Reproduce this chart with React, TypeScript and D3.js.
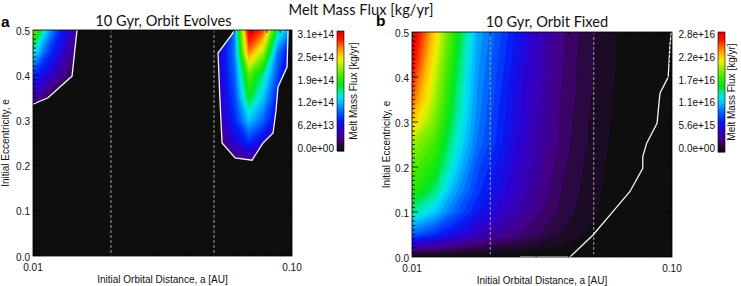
import React from "react";
import * as d3 from "d3";

// ---------- data ----------
const ECC_ROWS = [0.5, 0.45, 0.4, 0.35, 0.3, 0.25, 0.2, 0.15, 0.1, 0.05, 0.0];

// orbit-evolves grid: orbital distance columns (AU)
const A_EVOLVES = [
  0.01, 0.011365, 0.012915, 0.014678, 0.016681, 0.018957, 0.021544, 0.024484, 0.027826,
  0.031623, 0.035938, 0.040842, 0.046416, 0.05275, 0.059948, 0.068129, 0.077426, 0.087992, 0.1,
];
// melt mass flux, units of 1e13 kg/yr; rows follow ECC_ROWS
const FLUX_EVOLVES = [
  [22.0, 12.8, 7.8, 4.3, 0, 0, 0, 0, 0, 0, 0, 0, 0, 4.7, 10.9, 30.8, 27.9, 15.5, 10.9],
  [14.5, 9.3, 6.2, 3.1, 0, 0, 0, 0, 0, 0, 0, 0, 0, 6.2, 10.9, 26.7, 21.7, 10.9, 6.2],
  [8.7, 6.2, 3.7, 1.6, 0, 0, 0, 0, 0, 0, 0, 0, 0, 6.2, 10.2, 19.8, 15.5, 9.3, 3.7],
  [4.7, 2.5, 0, 0, 0, 0, 0, 0, 0, 0, 0, 0, 0, 5.6, 9.3, 17.1, 13.0, 7.8, 2.5],
  [0, 0, 0, 0, 0, 0, 0, 0, 0, 0, 0, 0, 0, 4.7, 8.4, 13.0, 10.2, 6.2, 1.6],
  [0, 0, 0, 0, 0, 0, 0, 0, 0, 0, 0, 0, 0, 2.5, 6.2, 8.4, 6.2, 3.1, 0],
  [0, 0, 0, 0, 0, 0, 0, 0, 0, 0, 0, 0, 0, 0, 1.6, 2.5, 1.6, 0, 0],
  [0, 0, 0, 0, 0, 0, 0, 0, 0, 0, 0, 0, 0, 0, 0, 0, 0, 0, 0],
  [0, 0, 0, 0, 0, 0, 0, 0, 0, 0, 0, 0, 0, 0, 0, 0, 0, 0, 0],
  [0, 0, 0, 0, 0, 0, 0, 0, 0, 0, 0, 0, 0, 0, 0, 0, 0, 0, 0],
  [0, 0, 0, 0, 0, 0, 0, 0, 0, 0, 0, 0, 0, 0, 0, 0, 0, 0, 0],
];
const MAX_EVOLVES = 31;

// orbit-fixed grid
const A_FIXED = [
  0.01, 0.012115, 0.014678, 0.017783, 0.021544, 0.026102, 0.031623, 0.038312, 0.046416,
  0.056234, 0.068129, 0.08254, 0.1,
];
// melt mass flux, units of 1e15 kg/yr; rows follow ECC_ROWS
const FLUX_FIXED = [
  [28.0, 22.4, 16.2, 11.2, 8.7, 6.4, 4.5, 2.9, 1.8, 0.98, 0.42, 0.17, 0.06],
  [27.2, 21.6, 15.7, 10.9, 8.4, 6.2, 4.3, 2.8, 1.7, 0.92, 0.39, 0.14, 0.06],
  [26.0, 20.7, 15.1, 10.6, 8.1, 5.9, 4.2, 2.7, 1.7, 0.87, 0.36, 0.14, 0.06],
  [24.6, 19.9, 14.6, 10.4, 7.8, 5.7, 4.1, 2.6, 1.6, 0.84, 0.34, 0.11, 0.03],
  [22.4, 18.8, 14.0, 10.1, 7.6, 5.6, 3.9, 2.5, 1.5, 0.78, 0.31, 0.11, 0.03],
  [19.6, 17.4, 13.2, 9.7, 7.3, 5.3, 3.8, 2.4, 1.5, 0.73, 0.28, 0.08, 0.03],
  [17.9, 16.2, 12.3, 8.7, 6.7, 5.0, 3.5, 2.2, 1.3, 0.64, 0.25, 0.08, 0.03],
  [16.8, 14.6, 10.9, 8.1, 6.2, 4.6, 3.2, 2.0, 1.2, 0.56, 0.22, 0.06, 0.03],
  [14.0, 12.0, 9.2, 7.0, 5.3, 4.1, 2.8, 1.8, 1.0, 0.48, 0.17, 0.06, 0.03],
  [9.2, 7.8, 6.2, 4.8, 3.6, 2.8, 2.0, 1.3, 0.7, 0.31, 0.11, 0.03, 0],
  [0.3, 0.2, 0.15, 0.1, 0.05, 0, 0, 0, 0, 0, 0, 0, 0],
];
const MAX_FIXED = 28;

// white boundary lines [a (AU), e]
const BOUNDARY_EVOLVES_1: [number, number][] = [
  [0.01, 0.336], [0.01143, 0.35], [0.01415, 0.398], [0.01479, 0.5],
];
const BOUNDARY_EVOLVES_2: [number, number][] = [
  [0.0603, 0.5], [0.0518, 0.449], [0.0527, 0.345], [0.0537, 0.25], [0.0603, 0.217],
  [0.0701, 0.212], [0.0773, 0.25], [0.0845, 0.272], [0.0868, 0.323], [0.0883, 0.374],
  [0.0957, 0.418], [0.0966, 0.5],
];
// plot corner that closes the first region along the frame
const CORNER_EVOLVES_1: [number, number][] = [[0.01, 0.5]];
const BOUNDARY_FIXED: [number, number][] = [
  [0.026, 0], [0.0405, 0], [0.0497, 0.049], [0.0577, 0.093], [0.0688, 0.145],
  [0.0772, 0.197], [0.0772, 0.223], [0.0799, 0.253], [0.0876, 0.297], [0.0891, 0.342],
  [0.0899, 0.364], [0.0967, 0.4], [0.0982, 0.471], [0.0995, 0.5],
];

const DASHED_A = [0.02, 0.05];
const Y_TICKS = [0, 0.1, 0.2, 0.3, 0.4, 0.5];
const Y_LABELS = ["0.0", "0.1", "0.2", "0.3", "0.4", "0.5"];
const X_TICKS = [0.01, 0.1];
const X_LABELS = ["0.01", "0.10"];
const X_MINOR = [0.02, 0.03, 0.04, 0.05, 0.06, 0.07, 0.08, 0.09];
const CB_EVOLVES = ["0.0e+00", "6.2e+13", "1.2e+14", "1.9e+14", "2.5e+14", "3.1e+14"];
const CB_FIXED = ["0.0e+00", "5.6e+15", "1.1e+16", "1.7e+16", "2.2e+16", "2.8e+16"];

// colour map
const CMAP_STOPS = [0, 0.04, 0.1, 0.18, 0.25, 0.33, 0.4, 0.45, 0.5, 0.55, 0.62, 0.7, 0.76, 0.82, 0.88, 0.94, 1.0];
const CMAP_COLORS = [
  "rgb(14,14,14)", "rgb(36,10,50)", "rgb(70,0,135)", "rgb(45,0,205)", "rgb(5,25,245)",
  "rgb(0,100,255)", "rgb(0,180,255)", "rgb(0,230,240)", "rgb(0,235,150)", "rgb(0,230,30)",
  "rgb(60,235,0)", "rgb(150,240,0)", "rgb(240,240,0)", "rgb(255,190,0)", "rgb(255,110,0)",
  "rgb(255,20,0)", "rgb(230,0,0)",
];
const NLEV = 40;

const FONT = "'Liberation Sans', Arial, Helvetica, sans-serif";
const TFONT = "Lato, 'Liberation Sans', sans-serif";

const cmap = d3
  .scaleLinear<string>()
  .domain(CMAP_STOPS)
  .range(CMAP_COLORS)
  .interpolate(d3.interpolateRgb)
  .clamp(true);

type PanelProps = {
  id: string;
  left: number;
  right: number;
  top: number;
  bottom: number;
  aGrid: number[];
  flux: number[][];
  max: number;
  boundaries: [number, number][][];
  clipPolys: [number, number][][] | null;
  title: string;
  titleX: number;
  titleY: number;
  letter: string;
  letterX: number;
  letterY: number;
  yTitleX: number;
  cbX: number;
  cbTop: number;
  cbBottom: number;
  cbLabels: string[];
  cbTitleX: number;
};

function Panel(p: PanelProps) {
  const x = d3.scaleLog().domain([0.01, 0.1]).range([p.left, p.right]);
  const y = d3.scaleLinear().domain([0, 0.5]).range([p.bottom, p.top]);
  const n = p.aGrid.length;
  const m = ECC_ROWS.length;
  const gx = d3.scaleLinear().domain([0.5, n - 0.5]).range([x(p.aGrid[0]), x(p.aGrid[n - 1])]);
  const gy = d3.scaleLinear().domain([0.5, m - 0.5]).range([y(ECC_ROWS[0]), y(ECC_ROWS[m - 1])]);
  const values = p.flux.flat();
  const thresholds = d3.range(1, NLEV).map((i) => (p.max * i) / NLEV);
  const contours = d3.contours().size([n, m]).thresholds(thresholds)(values);
  const proj = d3.geoTransform({
    point(px: number, py: number) {
      (this as any).stream.point(gx(px), gy(py));
    },
  });
  const path = d3.geoPath(proj as any);
  const line = d3
    .line<[number, number]>()
    .x((d) => x(d[0]))
    .y((d) => y(d[1]));

  const cbScale = d3.scaleLinear().domain([0, p.max]).range([148, 34.5]);
  const cbSteps = d3.range(0, 120);
  const cbH = (p.cbBottom - p.cbTop) / cbSteps.length;

  const yMinor = d3.range(0, 51).map((i) => i / 100);

  return (
    <g>
      <defs>
        <clipPath id={`plot-${p.id}`}>
          <rect x={p.left} y={p.top} width={p.right - p.left} height={p.bottom - p.top} />
        </clipPath>
        {p.clipPolys && (
          <clipPath id={`blob-${p.id}`}>
            {p.clipPolys.map((b, i) => (
              <path key={i} d={line(b) + "Z"} />
            ))}
          </clipPath>
        )}
      </defs>
      <rect x={p.left} y={p.top} width={p.right - p.left} height={p.bottom - p.top} fill={cmap(0)} />
      <g clipPath={`url(#plot-${p.id})`}>
        <g clipPath={p.clipPolys ? `url(#blob-${p.id})` : undefined}>
          {contours.map((c, i) => (
            <path key={i} d={path(c as any) || ""} fill={cmap((i + 1) / (NLEV - 1))} stroke={cmap((i + 1) / (NLEV - 1))} strokeWidth={0.3} />
          ))}
        </g>
        {DASHED_A.map((a) => (
          <line key={a} x1={x(a)} x2={x(a)} y1={p.top} y2={p.bottom} stroke="#9c9c9c" strokeWidth={1} strokeDasharray="3,2" />
        ))}
        {p.boundaries.map((b, i) => (
          <path key={i} d={line(b) || ""} fill="none" stroke="#f4f4f4" strokeWidth={1.3} />
        ))}
        {yMinor.map((v) => {
          const major = Math.abs(v * 10 - Math.round(v * 10)) < 1e-6;
          const len = major ? 6 : 3;
          return (
            <g key={v}>
              <line x1={p.left} x2={p.left + len} y1={y(v)} y2={y(v)} stroke="#000" strokeWidth={0.8} />
              <line x1={p.right} x2={p.right - len} y1={y(v)} y2={y(v)} stroke="#000" strokeWidth={0.8} />
            </g>
          );
        })}
        {X_MINOR.map((a) => (
          <g key={a}>
            <line x1={x(a)} x2={x(a)} y1={p.bottom} y2={p.bottom - 3} stroke="#000" strokeWidth={0.8} />
            <line x1={x(a)} x2={x(a)} y1={p.top} y2={p.top + 3} stroke="#000" strokeWidth={0.8} />
          </g>
        ))}
      </g>
      <rect x={p.left} y={p.top} width={p.right - p.left} height={p.bottom - p.top} fill="none" stroke="#000" strokeWidth={0.8} />

      {Y_TICKS.map((v, i) => (
        <text key={v} x={p.left - 3} y={y(v) + 4.5} textAnchor="end" fontSize={10} fontFamily={FONT} fill="#111">
          {Y_LABELS[i]}
        </text>
      ))}
      {X_TICKS.map((a, i) => (
        <text key={a} x={x(a)} y={p.bottom + 15} textAnchor="middle" fontSize={10} fontFamily={FONT} fill="#111">
          {X_LABELS[i]}
        </text>
      ))}
      <text x={(p.left + p.right) / 2} y={p.bottom + 26.5} textAnchor="middle" fontSize={10} fontFamily={FONT} fill="#111">
        Initial Orbital Distance, a [AU]
      </text>
      <text transform={`translate(${p.yTitleX},${(p.top + p.bottom) / 2}) rotate(-90)`} textAnchor="middle" fontSize={10} fontFamily={FONT} fill="#111">
        Initial Eccentricity, e
      </text>
      <text x={p.titleX} y={p.titleY} textAnchor="middle" fontSize={14.6} fontFamily={TFONT} fill="#111">
        {p.title}
      </text>
      <text x={p.letterX} y={p.letterY} fontSize={15.5} fontWeight="bold" fontFamily={FONT} fill="#000">
        {p.letter}
      </text>

      {cbSteps.map((i) => (
        <rect key={i} x={p.cbX} y={p.cbBottom - (i + 1) * cbH} width={7} height={cbH + 0.4} fill={cmap(i / (cbSteps.length - 1))} />
      ))}
      <rect x={p.cbX} y={p.cbTop} width={7} height={p.cbBottom - p.cbTop} fill="none" stroke="#000" strokeWidth={0.6} />
      {p.cbLabels.map((t, i) => (
        <text key={t} x={p.cbX - 3} y={cbScale((p.max * i) / (p.cbLabels.length - 1)) + 3.6} textAnchor="end" fontSize={10} fontFamily={FONT} fill="#111">
          {t}
        </text>
      ))}
      <text transform={`translate(${p.cbTitleX},${(p.cbTop + p.cbBottom) / 2}) rotate(-90)`} textAnchor="middle" fontSize={10} fontFamily={FONT} fill="#111">
        Melt Mass Flux [kg/yr]
      </text>
    </g>
  );
}

export default function App() {
  return (
    <svg width={741} height={286} style={{ position: "absolute", left: 0, top: 0, background: "#fff" }}>
      <rect x={0} y={0} width={741} height={286} fill="#fff" />
      <text x={361} y={14.5} textAnchor="middle" fontSize={14.7} fontFamily={TFONT} fill="#111">
        Melt Mass Flux [kg/yr]
      </text>
      <Panel
        id="evolves"
        left={33}
        right={292}
        top={30}
        bottom={256}
        aGrid={A_EVOLVES}
        flux={FLUX_EVOLVES}
        max={MAX_EVOLVES}
        boundaries={[BOUNDARY_EVOLVES_1, BOUNDARY_EVOLVES_2]}
        clipPolys={[BOUNDARY_EVOLVES_1.concat(CORNER_EVOLVES_1), BOUNDARY_EVOLVES_2]}
        title="10 Gyr, Orbit Evolves"
        titleX={163.5}
        titleY={25.5}
        letter="a"
        letterX={1}
        letterY={27}
        yTitleX={9}
        cbX={337}
        cbTop={31}
        cbBottom={151}
        cbLabels={CB_EVOLVES}
        cbTitleX={357}
      />
      <Panel
        id="fixed"
        left={412}
        right={672}
        top={32}
        bottom={257}
        aGrid={A_FIXED}
        flux={FLUX_FIXED}
        max={MAX_FIXED}
        boundaries={[BOUNDARY_FIXED]}
        clipPolys={null}
        title="10 Gyr, Orbit Fixed"
        titleX={547}
        titleY={27}
        letter="b"
        letterX={376}
        letterY={26}
        yTitleX={390}
        cbX={718}
        cbTop={32}
        cbBottom={152}
        cbLabels={CB_FIXED}
        cbTitleX={735}
      />
    </svg>
  );
}
